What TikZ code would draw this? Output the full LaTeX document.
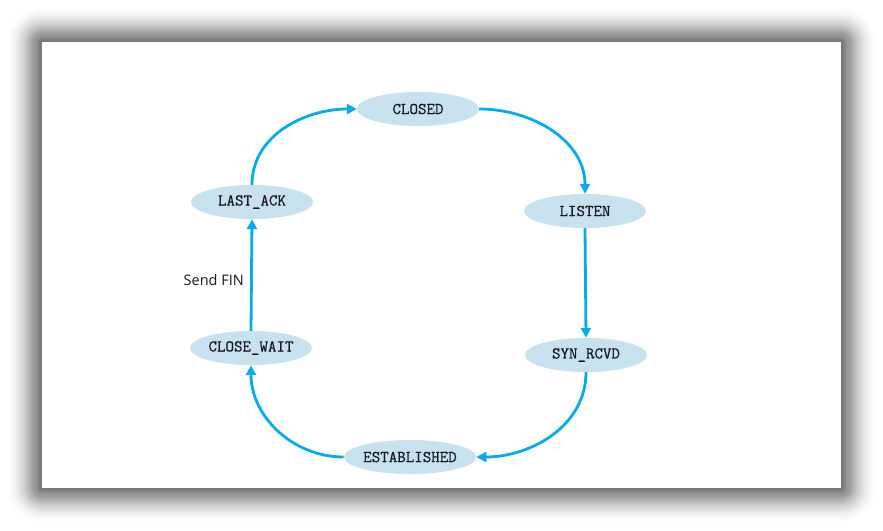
\documentclass[tikz,border=0pt]{standalone}
\usepackage{fontspec}
\setsansfont{Open Sans}
\newfontfamily\statefont{Latin Modern Mono}[FakeBold=0.7]
\usetikzlibrary{shapes.geometric, arrows.meta, positioning}
\usepackage{xcolor}
\definecolor{statefill}{RGB}{200,225,238}
\definecolor{flow}{RGB}{0,172,236}
\definecolor{ink}{RGB}{25,25,35}

\begin{document}
\begin{tikzpicture}[
    x=1pt, y=-1pt,
    state/.style={ellipse, minimum width=122pt, minimum height=34pt, inner sep=0pt, text centered, font=\statefont\fontsize{16.5}{18}\selectfont, fill=statefill, text=ink},
    arr/.style={-{Triangle[length=10pt, width=10pt]}, line width=2.8pt, flow},
    lbl/.style={font=\fontsize{14.5}{16}\selectfont\sffamily, text=ink},
]
\useasboundingbox (0,0) rectangle (883,530);
\fill[white] (0,0) rectangle (883,530);

% card with soft shadow
\foreach \i in {1,...,36}
    \fill[black, opacity={0.035*(1-\i/38)}, rounded corners=\i pt] ({42-\i},{42-\i}) rectangle ({841+\i},{488+\i});
\fill[white] (42,42) rectangle (841,488);

\node[state] (closed) at (418,109) {CLOSED};
\node[state] (listen) at (585,211) {LISTEN};
\node[state] (synrcvd) at (586,355) {SYN\_RCVD};
\node[state] (established) at (410,457) {ESTABLISHED};
\node[state] (closewait) at (251,348) {CLOSE\_WAIT};
\node[state] (lastack) at (252,202) {LAST\_ACK};

\draw[arr] (closed.east) to[out=0, in=90] (listen.north);
\draw[arr] (listen.south) -- (synrcvd.north);
\draw[arr] (synrcvd.south) to[out=-90, in=0] (established.east);
\draw[arr] (established.west) to[out=180, in=-90] (closewait.south);
\draw[arr] (closewait.north) -- node[lbl, left=3pt, yshift=-5pt] {Send FIN} (lastack.south);
\draw[arr] (lastack.north) to[out=90, in=180] (closed.west);

\end{tikzpicture}
\end{document}
